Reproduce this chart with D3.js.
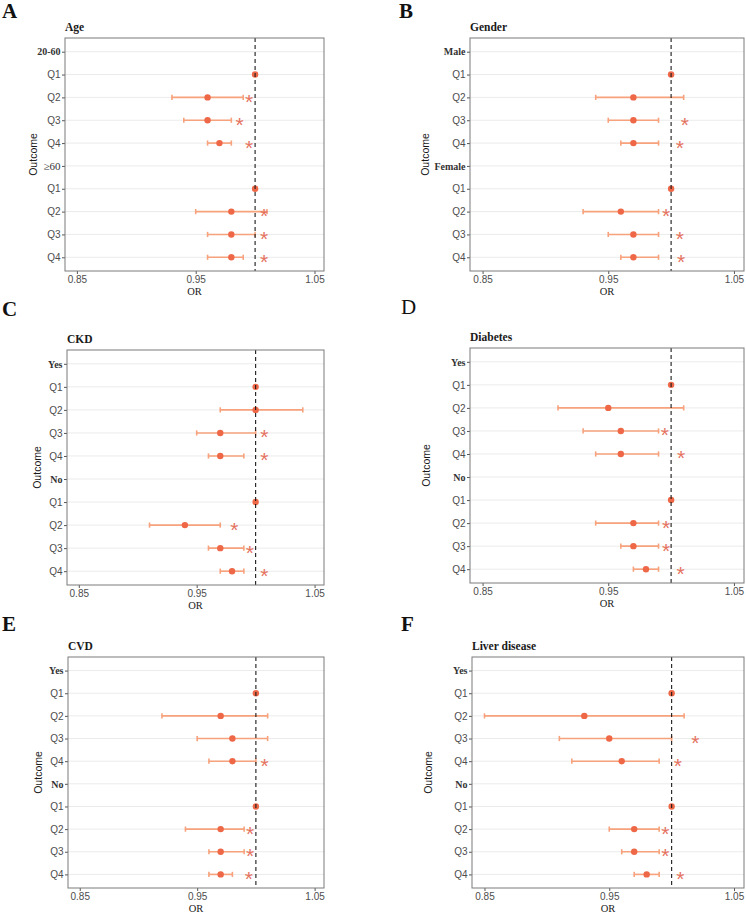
<!DOCTYPE html>
<html lang="en">
<head>
  <meta charset="UTF-8" />
  <title>OR forest plots by subgroup</title>
  <script src="https://d3js.org/d3.v7.min.js"></script>
  <style>
    html, body {
      margin: 0;
      padding: 0;
      background: #fff;
    }
    svg { display: block; }
  </style>
</head>
<body>
  <svg id="chart" width="746" height="914"></svg>

  <script>
    // ---- data ----
    const ageRows = ["20-60", "Q1", "Q2", "Q3", "Q4", "≥60", "Q1", "Q2", "Q3", "Q4"];
    const ageOR   = [null, 1.00, 0.96, 0.96, 0.97, null, 1.00, 0.98, 0.98, 0.98];
    const ageLo   = [null, null, 0.93, 0.94, 0.96, null, null, 0.95, 0.96, 0.96];
    const ageHi   = [null, null, 0.99, 0.98, 0.98, null, null, 1.01, 1.00, 0.99];
    const ageStar = [null, null, 0.995, 0.987, 0.995, null, null, 1.0075, 1.0075, 1.0075];

    const genderRows = ["Male", "Q1", "Q2", "Q3", "Q4", "Female", "Q1", "Q2", "Q3", "Q4"];
    const genderOR   = [null, 1.00, 0.97, 0.97, 0.97, null, 1.00, 0.96, 0.97, 0.97];
    const genderLo   = [null, null, 0.94, 0.95, 0.96, null, null, 0.93, 0.95, 0.96];
    const genderHi   = [null, null, 1.01, 0.99, 0.99, null, null, 0.99, 0.99, 0.99];
    const genderStar = [null, null, null, 1.011, 1.007, null, null, 0.996, 1.007, 1.008];

    const ynRows = ["Yes", "Q1", "Q2", "Q3", "Q4", "No", "Q1", "Q2", "Q3", "Q4"];

    const ckdOR   = [null, 1.00, 1.00, 0.97, 0.97, null, 1.00, 0.94, 0.97, 0.98];
    const ckdLo   = [null, null, 0.97, 0.95, 0.96, null, null, 0.91, 0.96, 0.97];
    const ckdHi   = [null, null, 1.04, 1.00, 0.99, null, null, 0.97, 0.99, 0.99];
    const ckdStar = [null, null, null, 1.0075, 1.0075, null, null, 0.982, 0.995, 1.0075];

    const diabOR   = [null, 1.00, 0.95, 0.96, 0.96, null, 1.00, 0.97, 0.97, 0.98];
    const diabLo   = [null, null, 0.91, 0.93, 0.94, null, null, 0.94, 0.96, 0.97];
    const diabHi   = [null, null, 1.01, 0.99, 0.99, null, null, 0.99, 0.99, 0.99];
    const diabStar = [null, null, null, 0.995, 1.008, null, null, 0.996, 0.996, 1.0075];

    const cvdOR   = [null, 1.00, 0.97, 0.98, 0.98, null, 1.00, 0.97, 0.97, 0.97];
    const cvdLo   = [null, null, 0.92, 0.95, 0.96, null, null, 0.94, 0.96, 0.96];
    const cvdHi   = [null, null, 1.01, 1.01, 1.00, null, null, 0.99, 0.99, 0.98];
    const cvdStar = [null, null, null, null, 1.0075, null, null, 0.995, 0.995, 0.994];

    const liverOR   = [null, 1.00, 0.93, 0.95, 0.96, null, 1.00, 0.97, 0.97, 0.98];
    const liverLo   = [null, null, 0.85, 0.91, 0.92, null, null, 0.95, 0.96, 0.97];
    const liverHi   = [null, null, 1.01, 1.00, 0.99, null, null, 0.99, 0.99, 0.99];
    const liverStar = [null, null, null, 1.019, 1.005, null, null, 0.995, 0.995, 1.007];

    const xTicks = [0.85, 0.95, 1.05];
    const xDomain = [0.84, 1.058];

    // ---- layout ----
    const panels = [
      { letter: "A", bold: true, title: "Age", rows: ageRows, or: ageOR, lo: ageLo, hi: ageHi, star: ageStar,
        lx: 2, ly: 18, box: [65, 38, 324, 271], outX: 33 },
      { letter: "B", bold: true, title: "Gender", rows: genderRows, or: genderOR, lo: genderLo, hi: genderHi, star: genderStar,
        lx: 399, ly: 18, box: [470, 38, 744, 271], outX: 425 },
      { letter: "C", bold: true, title: "CKD", rows: ynRows, or: ckdOR, lo: ckdLo, hi: ckdHi, star: ckdStar,
        lx: 2, ly: 316, box: [67, 350, 324, 585], outX: 37 },
      { letter: "D", bold: false, title: "Diabetes", rows: ynRows, or: diabOR, lo: diabLo, hi: diabHi, star: diabStar,
        lx: 401, ly: 314, box: [470, 348, 744, 583], outX: 426 },
      { letter: "E", bold: true, title: "CVD", rows: ynRows, or: cvdOR, lo: cvdLo, hi: cvdHi, star: cvdStar,
        lx: 2, ly: 631, box: [68, 657, 324, 888], outX: 38 },
      { letter: "F", bold: true, title: "Liver disease", rows: ynRows, or: liverOR, lo: liverLo, hi: liverHi, star: liverStar,
        lx: 401, ly: 631, box: [472, 657, 744, 888], outX: 428 }
    ];

    const serif = "'Liberation Serif', 'Times New Roman', serif";
    const sans = "'Liberation Sans', Arial, sans-serif";
    const pointColor = "#ee6747";
    const ciColor = "#f7a27c";
    const starColor = "#e5735f";

    const svg = d3.select("#chart");

    panels.forEach(p => {
      const [left, top, right, bottom] = p.box;
      const g = svg.append("g");

      const x = d3.scaleLinear().domain(xDomain).range([left, right]);
      const y = d3.scalePoint()
        .domain(d3.range(p.rows.length))
        .range([top, bottom])
        .padding(0.6);

      // panel letter
      g.append("text")
        .attr("x", p.lx).attr("y", p.ly)
        .attr("font-family", serif)
        .attr("font-size", "21px")
        .attr("font-weight", p.bold ? "bold" : "normal")
        .attr("fill", "#111")
        .text(p.letter);

      // title
      g.append("text")
        .attr("x", left).attr("y", top - 7)
        .attr("font-family", serif)
        .attr("font-size", "11.5px")
        .attr("font-weight", "bold")
        .attr("fill", "#1a1a1a")
        .text(p.title);

      // horizontal grid lines
      g.append("g").selectAll("line")
        .data(p.rows.map((r, i) => i))
        .join("line")
        .attr("x1", left).attr("x2", right)
        .attr("y1", i => y(i)).attr("y2", i => y(i))
        .attr("stroke", "#ebebeb")
        .attr("stroke-width", 1);

      // y axis
      const yAxis = d3.axisLeft(y)
        .tickSize(3)
        .tickPadding(1.5)
        .tickFormat(i => p.rows[i]);
      const ya = g.append("g")
        .attr("transform", `translate(${left},0)`)
        .call(yAxis);
      ya.select(".domain").remove();
      ya.selectAll(".tick line").attr("stroke", "#555");
      ya.selectAll(".tick text")
        .attr("fill", i => p.or[i] === null ? "#333" : "#4d4d4d")
        .attr("font-family", i => p.or[i] === null ? serif : sans)
        .attr("font-weight", i => p.or[i] === null && p.rows[i] !== "≥60" ? "bold" : "normal")
        .attr("font-size", i => p.rows[i] === "≥60" ? "11px" : "10px");

      // x axis
      const xAxis = d3.axisBottom(x)
        .tickValues(xTicks)
        .tickSize(3)
        .tickPadding(2)
        .tickFormat(d3.format(".2f"));
      const xa = g.append("g")
        .attr("transform", `translate(0,${bottom})`)
        .call(xAxis);
      xa.select(".domain").remove();
      xa.selectAll(".tick line").attr("stroke", "#555");
      xa.selectAll(".tick text")
        .attr("fill", "#4d4d4d")
        .attr("font-family", sans)
        .attr("font-size", "10px");

      // axis titles
      g.append("text")
        .attr("x", (left + right) / 2).attr("y", bottom + 23.5)
        .attr("text-anchor", "middle")
        .attr("font-family", serif)
        .attr("font-size", "10.5px")
        .attr("fill", "#1a1a1a")
        .text("OR");
      g.append("text")
        .attr("transform", `translate(${p.outX},${(top + bottom) / 2}) rotate(-90)`)
        .attr("text-anchor", "middle")
        .attr("dy", "0.35em")
        .attr("font-family", sans)
        .attr("font-size", "10.5px")
        .attr("fill", "#1a1a1a")
        .text("Outcome");

      const idx = p.rows.map((r, i) => i);
      const ciRows = idx.filter(i => p.lo[i] !== null);

      // CI bars
      const ci = g.append("g").attr("stroke", ciColor).attr("stroke-width", 1.6);
      ci.selectAll("line.bar")
        .data(ciRows).join("line").attr("class", "bar")
        .attr("x1", i => x(p.lo[i])).attr("x2", i => x(p.hi[i]))
        .attr("y1", i => y(i)).attr("y2", i => y(i));
      ci.selectAll("line.capl")
        .data(ciRows).join("line").attr("class", "capl")
        .attr("x1", i => x(p.lo[i])).attr("x2", i => x(p.lo[i]))
        .attr("y1", i => y(i) - 2.6).attr("y2", i => y(i) + 2.6);
      ci.selectAll("line.caph")
        .data(ciRows).join("line").attr("class", "caph")
        .attr("x1", i => x(p.hi[i])).attr("x2", i => x(p.hi[i]))
        .attr("y1", i => y(i) - 2.6).attr("y2", i => y(i) + 2.6);

      // points
      g.append("g").selectAll("circle")
        .data(idx.filter(i => p.or[i] !== null))
        .join("circle")
        .attr("cx", i => x(p.or[i]))
        .attr("cy", i => y(i))
        .attr("r", 3.2)
        .attr("fill", pointColor);

      // reference line at OR = 1
      g.append("line")
        .attr("x1", x(1)).attr("x2", x(1))
        .attr("y1", top).attr("y2", bottom)
        .attr("stroke", "#1a1a1a")
        .attr("stroke-width", 1.1)
        .attr("stroke-dasharray", "4,3");

      // significance stars
      g.append("g").selectAll("text")
        .data(idx.filter(i => p.star[i] !== null))
        .join("text")
        .attr("x", i => x(p.star[i]))
        .attr("y", i => y(i) + 11.5)
        .attr("text-anchor", "middle")
        .attr("font-family", sans)
        .attr("font-size", "21px")
        .attr("fill", starColor)
        .text("*");

      // panel border
      g.append("rect")
        .attr("x", left).attr("y", top)
        .attr("width", right - left).attr("height", bottom - top)
        .attr("fill", "none")
        .attr("stroke", "#7a7a7a")
        .attr("stroke-width", 1);
    });
  </script>
</body>
</html>
